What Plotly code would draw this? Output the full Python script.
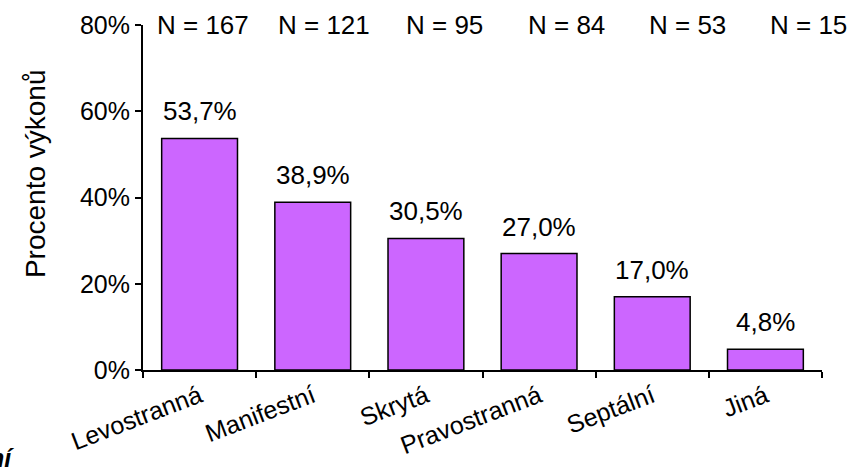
import plotly.graph_objects as go

categories = ["Levostranná", "Manifestní", "Skrytá", "Pravostranná", "Septální", "Jiná"]
values = [53.7, 38.9, 30.5, 27.0, 17.0, 4.8]
value_labels = ["53,7%", "38,9%", "30,5%", "27,0%", "17,0%", "4,8%"]
n_labels = ["N = 167", "N = 121", "N = 95", "N = 84", "N = 53", "N = 15"]
y_ticks = [0, 20, 40, 60, 80]
y_tick_labels = ["0%", "20%", "40%", "60%", "80%"]

FONT = "Liberation Sans, Arial, sans-serif"
FS = 25
FS_LAB = 26

fig = go.Figure()
fig.add_trace(go.Bar(
    x=categories, y=values,
    marker=dict(color="#CC66FF", line=dict(color="black", width=1.5)),
    width=0.67,
    hoverinfo="skip",
))

annotations = []
for c, v, t in zip(categories, values, value_labels):
    annotations.append(dict(x=c, y=v, text=t, showarrow=False, xref="x", yref="y",
                            yanchor="middle", yshift=27,
                            font=dict(family=FONT, size=FS_LAB, color="black")))
# N labels sit on one text line at the top, slightly wider spaced than the categories
for i, (c, t) in enumerate(zip(categories, n_labels)):
    annotations.append(dict(x=c, y=80, text=t, showarrow=False, xref="x", yref="y",
                            yanchor="middle", xshift=3 + 8 * i,
                            font=dict(family=FONT, size=FS_LAB, color="black")))
annotations.append(dict(x=-0.159, y=0.568, xref="paper", yref="paper", text="Procento výkonů",
                        textangle=-90, showarrow=False, xanchor="center", yanchor="middle",
                        font=dict(family=FONT, size=28, color="black")))
annotations.append(dict(x=-0.2297, y=-0.30, xref="paper", yref="paper", text="<b><i>ní</i></b>",
                        showarrow=False, xanchor="left", yanchor="bottom",
                        font=dict(family=FONT, size=FS, color="black")))

fig.update_layout(
    width=853, height=469,
    margin=dict(l=143, r=31, t=25, b=99),
    paper_bgcolor="white", plot_bgcolor="white",
    showlegend=False,
    bargap=0.33,
    font=dict(family=FONT, size=FS, color="black"),
    annotations=annotations,
)
fig.update_xaxes(
    type="category", range=[-0.5, 5.5], automargin=False,
    showline=True, linecolor="black", linewidth=2,
    ticks="outside", tickson="boundaries", ticklen=6, tickwidth=2, tickcolor="black",
    tickangle=-21, showgrid=False, zeroline=False,
    tickfont=dict(family=FONT, size=FS, color="black"),
)
fig.update_yaxes(
    range=[0, 80], tickvals=y_ticks, ticktext=y_tick_labels, automargin=False,
    showline=True, linecolor="black", linewidth=2,
    ticks="outside", ticklen=6, tickwidth=2, tickcolor="black",
    showgrid=False, zeroline=False,
    tickfont=dict(family=FONT, size=FS, color="black"),
)

fig.write_html("out.html", config={"displayModeBar": False},
               post_script="document.body.style.margin='0';")
